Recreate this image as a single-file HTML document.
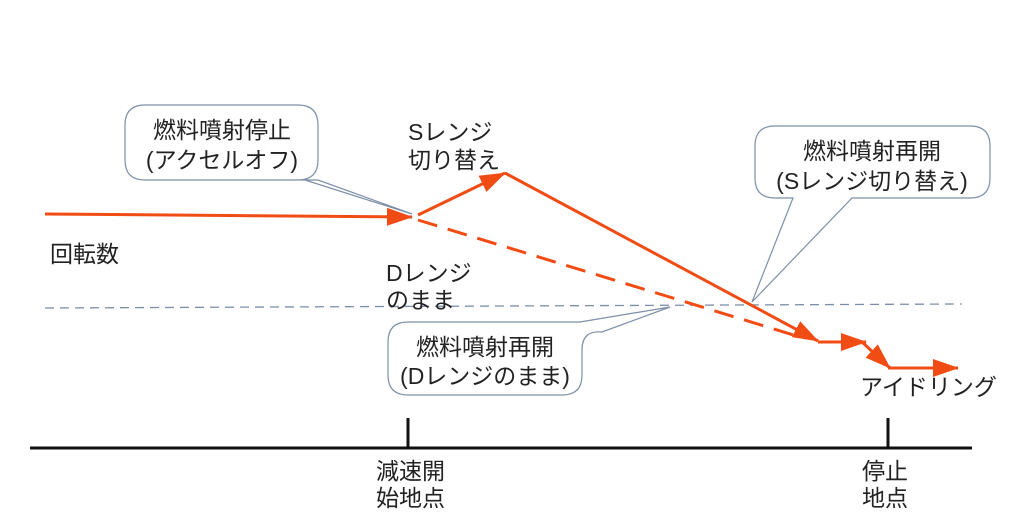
<!DOCTYPE html>
<html><head><meta charset="utf-8"><style>
html,body{margin:0;padding:0;background:#fff;}
svg{display:block;}
text{font-family:"Liberation Sans","Noto Sans CJK JP",sans-serif;font-size:23px;fill:#222;}
</style></head><body>
<svg width="1024" height="518" viewBox="0 0 1024 518" xmlns="http://www.w3.org/2000/svg">
<defs>
<marker id="ahb" markerWidth="26" markerHeight="18" refX="25" refY="9" orient="auto" markerUnits="userSpaceOnUse" viewBox="0 0 26 18">
<path d="M0,0 L26,9 L0,18 Z" fill="#f04c14"/>
</marker>
</defs>
<line x1="45" y1="308" x2="962" y2="304" stroke="#7d8fa8" stroke-width="1.3" stroke-dasharray="9,6"/>
<line x1="30" y1="448" x2="972" y2="448" stroke="#111" stroke-width="3"/>
<line x1="408" y1="418" x2="408" y2="448" stroke="#111" stroke-width="3"/>
<line x1="888" y1="418" x2="888" y2="448" stroke="#111" stroke-width="3"/>
<g stroke="#f04c14" stroke-width="3" fill="none">
<line x1="45" y1="214" x2="412" y2="217" marker-end="url(#ahb)"/>
<line x1="418" y1="215" x2="505" y2="173" marker-end="url(#ahb)"/>
<line x1="505" y1="173" x2="818" y2="341" marker-end="url(#ahb)"/>
<line x1="418" y1="220" x2="800" y2="337" stroke-dasharray="20,11"/>
<line x1="818" y1="342" x2="866" y2="342" marker-end="url(#ahb)"/>
<line x1="862" y1="342" x2="890" y2="368" marker-end="url(#ahb)"/>
<line x1="888" y1="368" x2="958" y2="368" marker-end="url(#ahb)"/>
</g>
<g fill="#fff" stroke="#7d8fa8" stroke-width="1.2">
<path d="M145,105 H298 Q318,105 318,125 V160 Q318,180 298,180 L318,180 L412,214 L305,180 H145 Q125,180 125,160 V125 Q125,105 145,105 Z"/>
<path d="M775,126 H970 Q990,126 990,146 V178 Q990,198 970,198 H852 L752,302 L793,198 H775 Q755,198 755,178 V146 Q755,126 775,126 Z"/>
<path d="M408,322 H580 L670,307 L602,332 Q582,330 582,350 V375 Q582,395 562,395 H408 Q388,395 388,375 V342 Q388,322 408,322 Z"/>
</g>
<text x="222" y="138" text-anchor="middle">燃料噴射停止</text>
<text x="222" y="168" text-anchor="middle">(アクセルオフ)</text>
<text x="872" y="159" text-anchor="middle">燃料噴射再開</text>
<text x="872" y="189" text-anchor="middle">(Sレンジ切り替え)</text>
<text x="485" y="355" text-anchor="middle">燃料噴射再開</text>
<text x="485" y="384" text-anchor="middle">(Dレンジのまま)</text>
<text x="408" y="140">Sレンジ</text>
<text x="408" y="168">切り替え</text>
<text x="50" y="262">回転数</text>
<text x="386" y="281">Dレンジ</text>
<text x="386" y="308">のまま</text>
<text x="860" y="395">アイドリング</text>
<text x="376" y="479">減速開</text>
<text x="376" y="506">始地点</text>
<text x="862" y="479">停止</text>
<text x="862" y="506">地点</text>
</svg>
</body></html>
